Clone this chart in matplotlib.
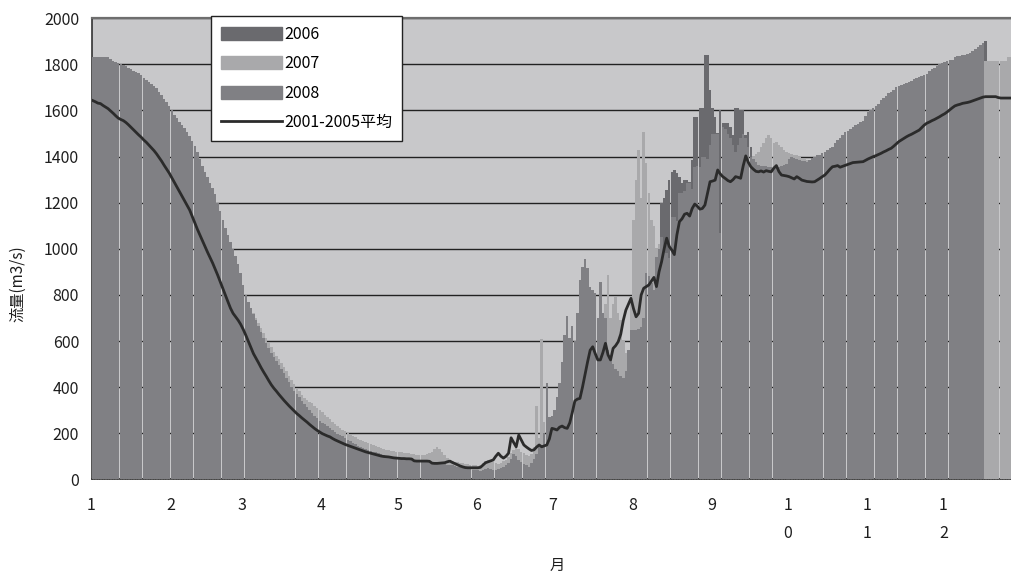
import numpy as np
import matplotlib.pyplot as plt
from matplotlib.patches import Patch
from matplotlib.lines import Line2D

plt.rcParams['font.family'] = ['Noto Sans CJK JP', 'DejaVu Sans']

# month boundaries (day index of the 1st of each month) and axis labels
month_days = [31, 28, 31, 30, 31, 30, 31, 31, 30, 31, 30, 31]
month_labels = ['1', '2', '3', '4', '5', '6', '7', '8', '9', '1\n0', '1\n1', '1\n2']

# daily flow (m3/s)
flow_2006 = [
    1720, 1716, 1712, 1708, 1704, 1700, 1696, 1690, 1684, 1678, 1672, 1665, 1658, 1651, 1644, 1636,
    1628, 1620, 1611, 1602, 1592, 1582, 1571, 1560, 1548, 1536, 1523, 1510, 1496, 1482, 1467,
    1450, 1432, 1413, 1393, 1372, 1350, 1327, 1303, 1278, 1252, 1225, 1197, 1168, 1138, 1108, 1077,
    1046, 1015, 984, 953, 922, 891, 860, 830, 800, 772, 745, 720,
    695, 672, 650, 628, 607, 586, 566, 546, 527, 508, 490, 472, 455, 438, 422, 406,
    391, 376, 362, 348, 335, 322, 310, 298, 287, 276, 266, 256, 247, 238, 230,
    222, 215, 208, 201, 194, 187, 180, 174, 168, 162, 156, 150, 145, 140, 135,
    130, 126, 122, 118, 114, 110, 107, 104, 101, 98, 95, 93, 91, 89, 87,
    85, 83, 81, 79, 77, 75, 73, 72, 71, 70, 69, 68, 67, 66, 65, 64,
    63, 62, 61, 60, 58, 56, 54, 52, 50, 48, 46, 44, 42, 40, 38,
    36, 35, 36, 38, 40, 40, 38, 36, 40, 45, 50, 55, 60, 70, 80,
    85, 75, 65, 60, 55, 50, 55, 60, 80, 100, 120, 150, 200, 180, 200,
    180, 200, 250, 300, 350, 400, 420, 450, 480, 500, 520, 540, 560, 580, 600, 600,
    580, 560, 540, 550, 560, 540, 500, 480, 460, 450, 430, 420, 440, 480, 550,
    600, 600, 620, 640, 660, 700, 720, 740, 760, 900, 980, 1198, 1220, 1255, 1298, 1335,
    1342, 1330, 1313, 1284, 1298, 1298, 1291, 1385, 1573, 1573, 1610, 1610, 1841, 1840, 1689,
    1610, 1573, 1501, 1602, 1545, 1545, 1545, 1530, 1494, 1610, 1610, 1602, 1602, 1494, 1508,
    1443, 1380, 1360, 1340, 1330, 1320, 1310, 1300, 1300, 1300, 1300, 1300, 1300, 1300, 1300,
    1300, 1300, 1300, 1300, 1300, 1300, 1300, 1300, 1300, 1310, 1320, 1330, 1340, 1350, 1360, 1370,
    1380, 1390, 1400, 1410, 1420, 1430, 1440, 1450, 1460, 1470, 1480, 1490, 1500, 1510, 1520,
    1530, 1540, 1550, 1560, 1570, 1580, 1590, 1600, 1610, 1620, 1630, 1640, 1650, 1655, 1660,
    1665, 1670, 1675, 1680, 1685, 1690, 1695, 1700, 1705, 1710, 1715, 1720, 1725, 1730, 1735,
    1740, 1745, 1750, 1755, 1760, 1765, 1770, 1775, 1780, 1785, 1790, 1795, 1800, 1810, 1820, 1840,
    1903, 1790, 1790, 1790, 1790, 1790, 1790, 1790, 1790, 1790, 1790, 1790, 1790, 1790, 1790,
]

flow_2007 = [
    1775, 1772, 1770, 1768, 1765, 1762, 1760, 1755, 1748, 1742, 1736, 1730, 1724, 1718, 1712, 1705,
    1698, 1690, 1682, 1674, 1665, 1655, 1645, 1635, 1625, 1614, 1602, 1590, 1576, 1562, 1548,
    1530, 1512, 1494, 1475, 1455, 1435, 1414, 1392, 1370, 1346, 1322, 1296, 1270, 1242, 1214, 1185,
    1155, 1124, 1092, 1060, 1028, 995, 962, 930, 898, 868, 850, 830,
    810, 790, 768, 745, 722, 700, 678, 656, 634, 612, 592, 572, 554, 537, 520, 503,
    486, 468, 450, 432, 414, 398, 382, 367, 352, 345, 336, 330, 318, 308, 300,
    290, 280, 270, 260, 250, 240, 232, 224, 216, 208, 200, 194, 188, 182, 176,
    170, 166, 162, 158, 154, 150, 146, 141, 136, 131, 127, 125, 123, 121, 120,
    120, 118, 116, 114, 112, 110, 108, 107, 106, 105, 105, 108, 112, 120, 130, 141,
    132, 120, 105, 92, 84, 80, 77, 74, 72, 70, 68, 66, 64, 62, 60,
    58, 62, 70, 78, 84, 80, 75, 70, 68, 72, 78, 85, 95, 113, 125,
    141, 130, 120, 113, 105, 100, 110, 140, 318, 180, 607, 250, 300, 230, 240,
    200, 250, 300, 350, 400, 450, 500, 550, 580, 600, 620, 640, 660, 680, 700, 720,
    700, 650, 620, 650, 760, 887, 700, 760, 790, 720, 690, 600, 550, 520, 790,
    1125, 1300, 1429, 1220, 1508, 1372, 1241, 1125, 1100, 1000, 1020, 1000, 940, 930, 920, 1080,
    1090, 1070, 1180, 1190, 1200, 1230, 1230, 1210, 1300, 1300, 1300, 1340, 1340, 1330, 1390,
    1440, 1440, 1440, 1050, 1470, 1460, 1440, 1420, 1390, 1360, 1390, 1420, 1440, 1420, 1380,
    1390, 1400, 1410, 1421, 1440, 1460, 1480, 1494, 1480, 1460, 1465, 1450, 1440, 1430, 1421,
    1415, 1410, 1407, 1405, 1400, 1395, 1390, 1385, 1360, 1365, 1370, 1375, 1380, 1385, 1390, 1398,
    1405, 1412, 1430, 1440, 1450, 1462, 1473, 1480, 1488, 1496, 1505, 1510, 1516, 1522, 1540,
    1552, 1560, 1570, 1580, 1590, 1602, 1612, 1622, 1632, 1640, 1646, 1656, 1662, 1668, 1672,
    1678, 1684, 1688, 1692, 1698, 1702, 1706, 1710, 1718, 1726, 1734, 1742, 1750, 1756, 1762,
    1766, 1770, 1774, 1778, 1782, 1786, 1790, 1794, 1798, 1800, 1803, 1806, 1808, 1810, 1812, 1813,
    1814, 1814, 1814, 1814, 1814, 1814, 1814, 1814, 1814, 1834, 1834, 1834, 1834, 1834, 1834,
]

# 2008 runs to mid-December only
flow_2008 = [
    1834, 1834, 1834, 1834, 1834, 1834, 1834, 1825, 1815, 1810, 1806, 1802, 1798, 1792, 1785, 1779,
    1773, 1767, 1761, 1752, 1742, 1733, 1724, 1714, 1705, 1696, 1682, 1668, 1652, 1638, 1620,
    1600, 1582, 1566, 1552, 1537, 1522, 1505, 1488, 1468, 1445, 1418, 1390, 1360, 1335, 1310, 1285,
    1262, 1238, 1200, 1162, 1125, 1090, 1058, 1028, 998, 968, 935, 895,
    845, 800, 770, 745, 718, 692, 665, 640, 615, 592, 570, 548, 530, 512, 495, 478,
    460, 440, 420, 402, 385, 370, 355, 340, 326, 313, 300, 288, 276, 265, 255,
    245, 238, 230, 222, 212, 204, 198, 192, 186, 178, 170, 164, 158, 152, 146,
    140, 136, 132, 128, 124, 120, 117, 113, 110, 106, 102, 99, 96, 94, 92,
    90, 88, 86, 85, 83, 82, 80, 79, 78, 77, 76, 75, 74, 72, 71, 70,
    68, 66, 65, 63, 62, 60, 57, 55, 52, 50, 48, 46, 44, 42, 40,
    40, 38, 42, 45, 48, 45, 42, 40, 45, 50, 55, 60, 70, 90, 110,
    100, 85, 75, 65, 60, 55, 70, 90, 110, 140, 150, 200, 416, 272, 275,
    300, 358, 416, 510, 626, 708, 612, 665, 600, 720, 865, 920, 954, 915, 836, 820,
    807, 698, 857, 720, 700, 560, 520, 500, 480, 470, 450, 440, 470, 560, 648,
    648, 648, 650, 660, 700, 893, 880, 850, 820, 965, 1000, 1050, 1000, 980, 960, 1139,
    1139, 1120, 1241, 1241, 1250, 1284, 1284, 1260, 1356, 1360, 1356, 1400, 1400, 1390, 1450,
    1500, 1500, 1500, 1070, 1530, 1520, 1500, 1480, 1450, 1420, 1450, 1480, 1500, 1480, 1440,
    1400, 1390, 1375, 1365, 1360, 1360, 1358, 1356, 1356, 1356, 1356, 1356, 1360, 1365, 1370,
    1390, 1400, 1395, 1390, 1385, 1382, 1380, 1378, 1385, 1392, 1400, 1405, 1407, 1414, 1421, 1428,
    1436, 1443, 1460, 1472, 1480, 1494, 1505, 1512, 1520, 1528, 1537, 1542, 1548, 1555, 1575,
    1592, 1600, 1610, 1620, 1630, 1645, 1655, 1665, 1675, 1682, 1688, 1700, 1705, 1710, 1715,
    1720, 1725, 1730, 1735, 1740, 1744, 1748, 1752, 1760, 1770, 1778, 1786, 1794, 1800, 1806,
    1810, 1814, 1818, 1820, 1834, 1836, 1838, 1840, 1842, 1845, 1850, 1858, 1866, 1876, 1886, 1893,
]

# 2001-2005 daily mean
flow_mean = [
    1643, 1638, 1632, 1630, 1622, 1615, 1608, 1598, 1588, 1577, 1567, 1561, 1556, 1548, 1538, 1527,
    1516, 1505, 1494, 1484, 1472, 1462, 1450, 1438, 1426, 1412, 1396, 1380, 1362, 1345, 1328,
    1308, 1288, 1268, 1248, 1228, 1208, 1188, 1168, 1140, 1112, 1085, 1060, 1035, 1010, 985, 962,
    938, 912, 885, 856, 826, 798, 770, 742, 720, 705, 690, 672,
    650, 625, 598, 570, 545, 525, 505, 484, 465, 447, 428, 410, 395, 382, 368, 355,
    342, 330, 318, 307, 296, 285, 276, 266, 257, 248, 238, 229, 220, 212, 205,
    198, 193, 188, 184, 177, 171, 166, 161, 156, 151, 147, 143, 139, 135, 131,
    127, 123, 119, 116, 113, 110, 107, 104, 101, 99, 98, 97, 95, 93, 92,
    91, 90, 90, 89, 89, 88, 80, 79, 79, 79, 79, 79, 78, 70, 69, 69,
    70, 71, 72, 76, 79, 73, 68, 63, 58, 54, 51, 50, 50, 50, 50,
    50, 52, 62, 72, 76, 80, 84, 100, 113, 100, 92, 100, 113, 180, 160,
    141, 192, 170, 149, 140, 132, 125, 128, 140, 149, 141, 145, 149, 175, 221,
    218, 214, 226, 231, 224, 221, 245, 290, 340, 348, 351, 400, 455, 510, 560, 575,
    545, 518, 518, 550, 590, 540, 518, 568, 580, 597, 630, 690, 734, 760, 785,
    740, 705, 720, 800, 829, 836, 843, 860, 876, 836, 900, 944, 1000, 1046, 1010, 995,
    975, 1060, 1118, 1130, 1150, 1154, 1142, 1175, 1194, 1185, 1172, 1175, 1190, 1240, 1291,
    1294, 1298, 1342, 1325, 1313, 1305, 1296, 1291, 1300, 1313, 1310, 1306, 1360, 1403, 1375,
    1356, 1345, 1336, 1334, 1338, 1333, 1339, 1336, 1334, 1350, 1361, 1335, 1320, 1318, 1316,
    1313, 1308, 1303, 1313, 1306, 1298, 1295, 1292, 1291, 1290, 1291, 1298, 1305, 1313, 1320, 1332,
    1345, 1356, 1358, 1361, 1354, 1358, 1362, 1366, 1370, 1374, 1375, 1376, 1377, 1378, 1384,
    1390, 1395, 1400, 1404, 1409, 1414, 1420, 1425, 1431, 1436, 1445, 1455, 1465, 1472, 1479,
    1486, 1492, 1497, 1503, 1509, 1515, 1526, 1537, 1545, 1550, 1556, 1561, 1567, 1573, 1580,
    1586, 1594, 1603, 1612, 1620, 1624, 1627, 1631, 1633, 1635, 1638, 1642, 1646, 1650, 1654, 1658,
    1660, 1660, 1660, 1660, 1660, 1656, 1654, 1654, 1654, 1654, 1654, 1654, 1652, 1652, 1652,
]

c2006, c2007, c2008 = '#6a6a6e', '#a9a9ab', '#808084'
c_line = '#2b2b2b'
c_text = '#1e1e1e'

n_days = sum(month_days)
month_starts = np.concatenate([[0], np.cumsum(month_days)[:-1]])

fig = plt.figure(figsize=(10.11, 5.72), dpi=100)
# plot area runs past the right edge of the canvas (late December is cut off)
ax = fig.add_axes([91.5 / 1011, 92.7 / 572, 931 / 1011, 461 / 572])
ax.set_facecolor('#c8c8ca')

bar_w = 0.966
ax.bar(np.arange(len(flow_2006)), flow_2006, width=bar_w, align='edge', color=c2006, linewidth=0, zorder=2)
ax.bar(np.arange(len(flow_2007)), flow_2007, width=bar_w, align='edge', color=c2007, linewidth=0, zorder=3)
ax.bar(np.arange(len(flow_2008)), flow_2008, width=bar_w, align='edge', color=c2008, linewidth=0, zorder=4)
ax.plot(np.arange(len(flow_mean)) + 0.5, flow_mean, color=c_line, lw=2, zorder=5)

ax.set_xlim(0, n_days)
ax.set_ylim(0, 2000)
ax.set_yticks(np.arange(0, 2001, 200))
ax.yaxis.grid(True, color='#222222', lw=1)
ax.set_axisbelow(True)

ax.set_xticks(month_starts)
ax.set_xticklabels(month_labels, linespacing=1.85)
ax.set_xticks(np.arange(0, n_days + 1), minor=True)
ax.tick_params(axis='x', which='major', length=0, pad=13, labelsize=11.5, colors=c_text)
ax.tick_params(axis='x', which='minor', direction='in', length=3.5, width=0.6, color='#333333')
ax.tick_params(axis='y', length=0, pad=9, labelsize=11.5, colors=c_text)

for side in ['left', 'bottom']:
    ax.spines[side].set_color('#333333')
    ax.spines[side].set_linewidth(1.2)
ax.spines['top'].set_color('#6e6e6e')
ax.spines['top'].set_linewidth(1.6)
ax.spines['right'].set_visible(False)

fig.text(18 / 1011, 1 - 284 / 572, '流量(m3/s)', rotation=90, ha='center', va='center', fontsize=11, color=c_text)
fig.text(557 / 1011, 1 - 565 / 572, '月', ha='center', va='center', fontsize=11, color=c_text)

handles = [Patch(color=c2006), Patch(color=c2007), Patch(color=c2008), Line2D([], [], color=c_line, lw=2)]
labels = ['2006', '2007', '2008', '2001-2005平均']
fig.legend(handles, labels, loc='upper left', bbox_to_anchor=(211 / 1011, 1 - 16 / 572),
           borderaxespad=0, frameon=True, fancybox=False, framealpha=1, edgecolor='#222222',
           handlelength=3.8, handleheight=0.875, handletextpad=0.15, labelspacing=0.78,
           borderpad=0.62, fontsize=11.5)

fig.savefig('out.png', dpi=100)
